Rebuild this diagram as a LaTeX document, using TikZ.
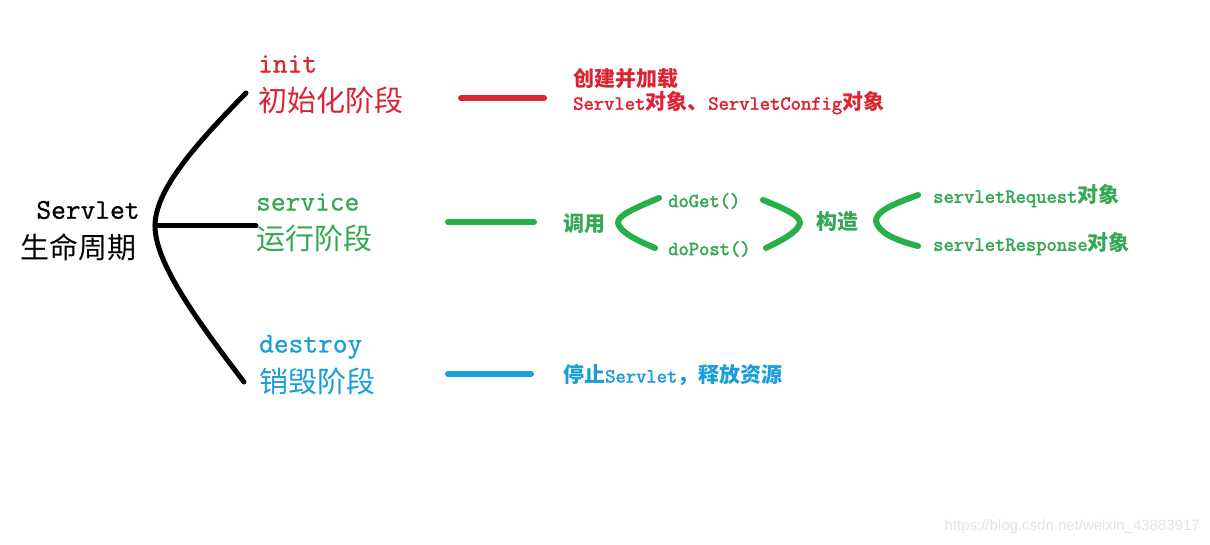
\documentclass[tikz,border=0pt]{standalone}
\usepackage{fontspec}
\setmainfont{Latin Modern Mono}
\newfontfamily\monob[FakeBold=2.2]{Latin Modern Mono}
\newfontfamily\monom[FakeBold=0.9]{Latin Modern Mono}
\newfontfamily\cjk{Noto Sans CJK SC}
\newfontfamily\wmfont{Liberation Sans}
\definecolor{redc}{RGB}{218,36,50}
\definecolor{greent}{RGB}{52,168,84}
\definecolor{greenl}{RGB}{40,176,72}
\definecolor{bluec}{RGB}{26,158,216}
\definecolor{wmc}{RGB}{228,228,228}
\newcommand\zhs[1]{{\fontsize{21}{24}\selectfont\cjk\bfseries #1}}
\begin{document}
\begin{tikzpicture}[x=1pt,y=-1pt,
  biglat/.style={anchor=west,inner sep=0pt,font=\fontsize{28.6}{30}\selectfont\monom},
  bigzh/.style={anchor=west,inner sep=0pt,font=\fontsize{29}{32}\selectfont\cjk},
  small/.style={anchor=west,inner sep=0pt,font=\fontsize{20}{22}\selectfont\monob},
  stroke/.style={line width=6pt,line cap=round},
  brk/.style={line width=6pt,line cap=round,line join=round,greenl}]
\useasboundingbox (0,0) rectangle (1210,545);
\fill[white] (0,0) rectangle (1210,545);
% left title
\node[biglat,anchor=center] (sv) at (88,210) {Servlet};
\node[bigzh,anchor=center] (life) at (78,247) {生命周期};
% black tree
\coordinate (ctop) at (246,93);
\coordinate (cmid) at (155,226);
\coordinate (cbot) at (244,382);
\coordinate (hend) at (256,226);
\draw[line width=5pt,line cap=round] (ctop) .. controls (195,145) and (155,190) .. (cmid)
  .. controls (155,262) and (195,318) .. (cbot);
\draw[line width=5pt,line cap=round] (cmid) -- (hend);
% init
\node[biglat,text=redc] (init) at (258,64) {init};
\node[bigzh,text=redc] (initzh) at (258,100) {初始化阶段};
\coordinate (r1) at (461,98); \coordinate (r2) at (544,98);
\draw[stroke,redc] (r1) -- (r2);
\node[small,text=redc] (cj) at (573,79) {\zhs{创建并加载}};
\node[small,text=redc] (cjo) at (573,103) {Servlet\zhs{对象、}ServletConfig\zhs{对象}};
% service
\node[biglat,text=greent] (svc) at (256,202) {service};
\node[bigzh,text=greent] (svczh) at (256,238) {运行阶段};
\coordinate (g1) at (448,222); \coordinate (g2) at (534,222);
\draw[stroke,greenl] (g1) -- (g2);
\node[small,text=greent] (dy) at (563,224) {\zhs{调用}};
\coordinate (a1) at (659,198); \coordinate (a2) at (618,223); \coordinate (a3) at (655,248);
\draw[brk] (a1) .. controls (630,210) and (618,216) .. (a2) .. controls (620,232) and (636,240) .. (a3);
\node[small,text=greent] (get) at (668,201) {doGet()};
\node[small,text=greent] (post) at (668,249) {doPost()};
\coordinate (b1) at (763,200); \coordinate (b2) at (800,223); \coordinate (b3) at (766,248);
\draw[brk] (b1) .. controls (788,210) and (800,216) .. (b2) .. controls (798,232) and (782,240) .. (b3);
\node[small,text=greent] (gz) at (816,222) {\zhs{构造}};
\coordinate (c1) at (918,195); \coordinate (c2) at (876,221); \coordinate (c3) at (918,246);
\draw[brk] (c1) .. controls (890,205) and (876,212) .. (c2) .. controls (878,232) and (894,240) .. (c3);
\node[small,text=greent] (req) at (933,196) {servletRequest\zhs{对象}};
\node[small,text=greent] (resp) at (933,244) {servletResponse\zhs{对象}};
% destroy
\node[biglat,text=bluec] (des) at (259,347) {destroy};
\node[bigzh,text=bluec] (deszh) at (259,381) {销毁阶段};
\coordinate (u1) at (448,374); \coordinate (u2) at (531,374);
\draw[stroke,bluec] (u1) -- (u2);
\node[small,text=bluec] (stop) at (563,375) {\zhs{停止}Servlet\zhs{，释放资源}};
% watermark
\node[anchor=east,inner sep=0pt,text=wmc,font=\fontsize{15}{18}\selectfont\wmfont] (wm) at (1200,527) {https://blog.csdn.net/weixin\_43883917};
\end{tikzpicture}
\end{document}
